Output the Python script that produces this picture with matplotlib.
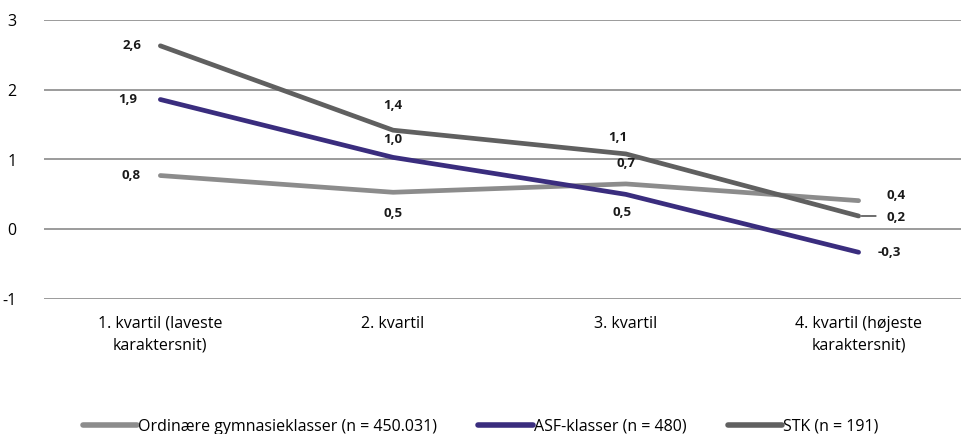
import matplotlib.pyplot as plt
from matplotlib.lines import Line2D

categories = ["1. kvartil (laveste\nkaraktersnit)", "2. kvartil", "3. kvartil",
              "4. kvartil (højeste\nkaraktersnit)"]
ordinaere = [0.77, 0.53, 0.65, 0.41]
asf = [1.86, 1.03, 0.50, -0.33]
stk = [2.63, 1.42, 1.08, 0.19]
series_names = ["Ordinære gymnasieklasser (n = 450.031)", "ASF-klasser (n = 480)", "STK (n = 191)"]
colors = ["#8c8c8c", "#3a2d7e", "#606060"]

plt.rcParams['font.family'] = ['Open Sans', 'DejaVu Sans']

fig = plt.figure(figsize=(9.61, 4.34), dpi=100)
ax = fig.add_axes([44 / 961, 1 - 299 / 434, (961 - 44) / 961, (299 - 20) / 434])

x = list(range(len(categories)))
for vals, c in zip([ordinaere, asf, stk], colors):
    ax.plot(x, vals, color=c, lw=3.4, solid_capstyle='round', zorder=3)

def fmt(v):
    return ("%.1f" % v).replace(".", ",")

# label offsets (points): one per point per series
offs = {
    0: [(-14, 0, 'right', 'center'), (0, -15, 'center', 'center'), (0, 15, 'center', 'center'), (20, 4, 'left', 'center')],
    1: [(-17, 0, 'right', 'center'), (0, 13, 'center', 'center'), (-3, -13, 'center', 'center'), (14, 0, 'left', 'center')],
    2: [(-14, 0, 'right', 'center'), (0, 18, 'center', 'center'), (-6, 12, 'center', 'center'), (20, -1, 'left', 'center')],
}
for si, vals in enumerate([ordinaere, asf, stk]):
    for i, v in enumerate(vals):
        dx, dy, ha, va = offs[si][i]
        ax.annotate(fmt(v), (i, v), xytext=(dx, dy), textcoords='offset points',
                    ha=ha, va=va, fontsize=9.5, fontweight='bold', color='#1a1a1a', zorder=5)
# leader line for STK last point
ax.annotate("", (3, stk[3]), xytext=(3.075, stk[3]), textcoords='data',
            arrowprops=dict(arrowstyle='-', color='black', lw=0.8, shrinkA=0, shrinkB=2))

ax.set_xlim(-0.5, 3.44)
ax.set_ylim(-1, 3)
ax.set_yticks([-1, 0, 1, 2, 3])
ax.set_yticklabels(["-1", "0", "1", "2", "3"])
ax.set_xticks(x)
ax.set_xticklabels(categories, fontsize=11.5, linespacing=1.45)
ax.tick_params(axis='y', length=0, pad=20, labelsize=11.5)
ax.tick_params(axis='x', length=0, pad=12)
ax.grid(axis='y', color='#8a8a8a', lw=1.2)
ax.set_axisbelow(True)
for s in ax.spines.values():
    s.set_visible(False)

handles = [Line2D([], [], color=c, lw=4, solid_capstyle='round') for c in colors]
fig.legend(handles, series_names, loc='lower center', bbox_to_anchor=(0.5, -0.035), ncol=3,
           frameon=False, fontsize=11.5, handlelength=3.4, handletextpad=0.05, columnspacing=2.6)

fig.savefig("out.png", dpi=100)
